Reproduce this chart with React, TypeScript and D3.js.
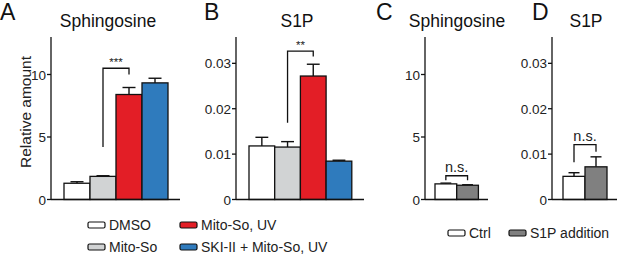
import React from "react";
import * as d3 from "d3";

const groupsAB = ["DMSO", "Mito-So", "Mito-So, UV", "SKI-II + Mito-So, UV"];
const colorsAB = ["#ffffff", "#d1d3d4", "#e31e26", "#2f7bbd"];
const sphA = [1.3, 1.85, 8.4, 9.33];
const sphAErr = [0.12, 0.05, 0.56, 0.37];
const s1pB = [0.0118, 0.01155, 0.0272, 0.00845];
const s1pBErr = [0.0019, 0.0012, 0.0026, 0.0002];

const groupsCD = ["Ctrl", "S1P addition"];
const colorsCD = ["#ffffff", "#808080"];
const sphC = [1.25, 1.14];
const sphCErr = [0.06, 0.04];
const s1pD = [0.0051, 0.0072];
const s1pDErr = [0.0008, 0.0022];

const sphTicks = [0, 5, 10];
const s1pTicks = [0, 0.01, 0.02, 0.03];
const s1pTickLabels = ["0", "0.01", "0.02", "0.03"];

type Sig = { a: number; b: number; top: number; leftBottom: number; rightBottom: number; label: string };

const sigA: Sig = { a: 1, b: 2, top: 10.5, leftBottom: 4.2, rightBottom: 10.0, label: "***" };
const sigB: Sig = { a: 1, b: 2, top: 0.0327, leftBottom: 0.0169, rightBottom: 0.0315, label: "**" };
const sigC: Sig = { a: 0, b: 1, top: 1.9, leftBottom: 1.55, rightBottom: 1.55, label: "n.s." };
const sigD: Sig = { a: 0, b: 1, top: 0.0121, leftBottom: 0.0082, rightBottom: 0.0105, label: "n.s." };

const FONT = "'Liberation Sans', Arial, Helvetica, sans-serif";

type PanelProps = {
  letter: string;
  letterX: number;
  title: string;
  titleX: number;
  axisX: number;
  axisEnd: number;
  barStart: number;
  barW: number;
  groups: string[];
  colors: string[];
  values: number[];
  errs: number[];
  yMax: number;
  ticks: number[];
  tickLabels: string[];
  sig: Sig;
};

function Panel(p: PanelProps) {
  const yBase = 199.5;
  const yTop = 37;
  const y = d3.scaleLinear().domain([0, p.yMax]).range([yBase, yTop]);
  const x = d3
    .scaleBand<string>()
    .domain(p.groups)
    .range([p.barStart, p.barStart + p.barW * p.groups.length])
    .padding(0);
  const bw = x.bandwidth();
  const cx = (i: number) => (x(p.groups[i]) as number) + bw / 2;
  const capHalf = bw * 0.25;
  const s = p.sig;
  const lx = cx(s.a);
  const rx = cx(s.b);
  const ns = s.label === "n.s.";
  return (
    <g>
      <text x={p.letterX} y={20} fontSize={23} fontFamily={FONT} fill="#111">
        {p.letter}
      </text>
      <text x={p.titleX} y={27} fontSize={17.5} fontFamily={FONT} fill="#111" textAnchor="middle">
        {p.title}
      </text>
      {p.values.map((v, i) => {
        const x0 = x(p.groups[i]) as number;
        const c = cx(i);
        const top = y(v + p.errs[i]);
        return (
          <g key={i}>
            <line x1={c} x2={c} y1={y(v)} y2={top} stroke="#111" strokeWidth={1.4} />
            <line x1={c - capHalf} x2={c + capHalf} y1={top} y2={top} stroke="#111" strokeWidth={1.4} />
            <rect
              x={x0}
              y={y(v)}
              width={bw}
              height={yBase - y(v)}
              fill={p.colors[i]}
              stroke="#111"
              strokeWidth={1.3}
            />
          </g>
        );
      })}
      <line x1={p.axisX} x2={p.axisX} y1={yTop} y2={yBase} stroke="#111" strokeWidth={1.3} />
      <line x1={p.axisX} x2={p.axisEnd} y1={yBase} y2={yBase} stroke="#111" strokeWidth={1.3} />
      {p.ticks.map((t, i) => (
        <g key={i}>
          <line x1={p.axisX - 4} x2={p.axisX} y1={y(t)} y2={y(t)} stroke="#111" strokeWidth={1.3} />
          <text
            x={p.axisX - 5}
            y={y(t) + 5}
            fontSize={13.5}
            fontFamily={FONT}
            fill="#222"
            textAnchor="end"
          >
            {p.tickLabels[i]}
          </text>
        </g>
      ))}
      <path
        d={`M${lx},${y(s.leftBottom)}V${y(s.top)}H${rx}V${y(s.rightBottom)}`}
        fill="none"
        stroke="#111"
        strokeWidth={1.3}
      />
      <text
        x={(lx + rx) / 2}
        y={y(s.top) - (ns ? 4 : 2)}
        fontSize={ns ? 14.5 : 11.5}
        fontFamily={FONT}
        fill="#222"
        textAnchor="middle"
      >
        {s.label}
      </text>
    </g>
  );
}

function LegendItem({ x, y, color, label }: { x: number; y: number; color: string; label: string }) {
  return (
    <g>
      <rect x={x} y={y - 3} width={17} height={6} rx={1.5} fill={color} stroke="#111" strokeWidth={1.2} />
      <text x={x + 21} y={y + 5} fontSize={14} fontFamily={FONT} fill="#222">
        {label}
      </text>
    </g>
  );
}

export default function App() {
  return (
    <svg
      width={617}
      height={254}
      style={{ position: "absolute", left: 0, top: 0, background: "#fff" }}
    >
      <text
        transform="translate(31,112) rotate(-90)"
        fontSize={15.5}
        fontFamily={FONT}
        fill="#222"
        textAnchor="middle"
      >
        Relative amount
      </text>
      <Panel
        letter="A"
        letterX={0}
        title="Sphingosine"
        titleX={108}
        axisX={51}
        axisEnd={180}
        barStart={64}
        barW={26}
        groups={groupsAB}
        colors={colorsAB}
        values={sphA}
        errs={sphAErr}
        yMax={13}
        ticks={sphTicks}
        tickLabels={sphTicks.map(String)}
        sig={sigA}
      />
      <Panel
        letter="B"
        letterX={204}
        title="S1P"
        titleX={297}
        axisX={236}
        axisEnd={364}
        barStart={249}
        barW={25.7}
        groups={groupsAB}
        colors={colorsAB}
        values={s1pB}
        errs={s1pBErr}
        yMax={0.0358}
        ticks={s1pTicks}
        tickLabels={s1pTickLabels}
        sig={sigB}
      />
      <Panel
        letter="C"
        letterX={376}
        title="Sphingosine"
        titleX={457}
        axisX={425}
        axisEnd={488}
        barStart={435}
        barW={21.7}
        groups={groupsCD}
        colors={colorsCD}
        values={sphC}
        errs={sphCErr}
        yMax={13}
        ticks={sphTicks}
        tickLabels={sphTicks.map(String)}
        sig={sigC}
      />
      <Panel
        letter="D"
        letterX={532}
        title="S1P"
        titleX={586}
        axisX={552}
        axisEnd={617}
        barStart={563}
        barW={22}
        groups={groupsCD}
        colors={colorsCD}
        values={s1pD}
        errs={s1pDErr}
        yMax={0.0358}
        ticks={s1pTicks}
        tickLabels={s1pTickLabels}
        sig={sigD}
      />
      <LegendItem x={88} y={225} color={colorsAB[0]} label={groupsAB[0]} />
      <LegendItem x={180} y={225} color={colorsAB[2]} label={groupsAB[2]} />
      <LegendItem x={88} y={247} color={colorsAB[1]} label={groupsAB[1]} />
      <LegendItem x={180} y={247} color={colorsAB[3]} label={groupsAB[3]} />
      <LegendItem x={448} y={233} color={colorsCD[0]} label={groupsCD[0]} />
      <LegendItem x={509} y={233} color={colorsCD[1]} label={groupsCD[1]} />
    </svg>
  );
}
